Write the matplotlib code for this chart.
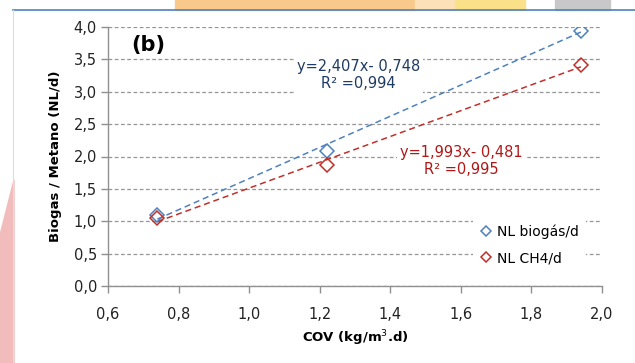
import matplotlib.pyplot as plt
from matplotlib.patches import Rectangle, Polygon
from matplotlib.lines import Line2D

# data
cov = [0.74, 1.22, 1.94]
biogas = [1.10, 2.08, 3.94]
ch4 = [1.05, 1.87, 3.41]
fit_biogas = [2.407, -0.748]
fit_ch4 = [1.993, -0.481]
eq_biogas = "y=2,407x- 0,748\nR² =0,994"
eq_ch4 = "y=1,993x- 0,481\nR² =0,995"
xticks = [0.6, 0.8, 1.0, 1.2, 1.4, 1.6, 1.8, 2.0]
yticks = [0.0, 0.5, 1.0, 1.5, 2.0, 2.5, 3.0, 3.5, 4.0]

blue = "#4f81bd"
red = "#c0302b"
blue_txt = "#1f3b63"
red_txt = "#b01818"

plt.rcParams['font.family'] = ['DejaVu Sans']

fig = plt.figure(figsize=(6.35, 3.63), dpi=100)
fig.patch.set_facecolor("white")

# decorative background (slide behind the chart)
W, H = 635.0, 363.0
def fr(x0, y0, w, h, c, a=1.0):
    fig.patches.append(Rectangle((x0 / W, 1 - (y0 + h) / H), w / W, h / H,
                                 transform=fig.transFigure, color=c, alpha=a, zorder=0))
fr(175, 0, 240, 10, "#f8c98a")
fr(415, 0, 40, 10, "#fbe0b8")
fr(455, 0, 70, 10, "#fbe08a")
fr(555, 0, 55, 10, "#c8c8c8")
fig.patches.append(Polygon([(0, 0), (14 / W, 0), (14 / W, 1 - 180 / H), (0, 1 - 235 / H)],
                           closed=True, transform=fig.transFigure,
                           color="#f2bcbc", zorder=0))
fig.lines.append(Line2D([13 / W, 1], [1 - 10 / H, 1 - 10 / H], transform=fig.transFigure,
                        color="#4f81bd", lw=1.2))
fig.lines.append(Line2D([13 / W, 13 / W], [0, 1 - 10 / H], transform=fig.transFigure,
                        color="#dddddd", lw=0.8))

ax = fig.add_axes([108 / W, 1 - 286 / H, 494 / W, 259 / H])
ax.set_facecolor("none")

# trendlines
xs = [cov[0], cov[-1]]
ax.plot(xs, [fit_biogas[0] * x + fit_biogas[1] for x in xs], color=blue, lw=1.1,
        ls=(0, (4, 2.5)), zorder=3)
ax.plot(xs, [fit_ch4[0] * x + fit_ch4[1] for x in xs], color=red, lw=1.1,
        ls=(0, (4, 2.5)), zorder=3)

ax.plot(cov, biogas, ls="none", marker="D", ms=7, mfc="none", mec=blue, mew=1.1,
        label="NL biogás/d", zorder=4)
ax.plot(cov, ch4, ls="none", marker="D", ms=7, mfc="none", mec=red, mew=1.1,
        label="NL CH4/d", zorder=4)

ax.set_xlim(0.6, 2.0)
ax.set_ylim(0.0, 4.0)
ax.set_xticks(xticks)
ax.set_yticks(yticks)
ax.set_xticklabels([("%.1f" % v).replace(".", ",") for v in xticks], fontsize=10.5, color="#222222")
ax.set_yticklabels([("%.1f" % v).replace(".", ",") for v in yticks], fontsize=10.5, color="#222222")
ax.tick_params(axis="both", direction="out", length=5, color="#909090", width=1)
ax.tick_params(axis="x", pad=10)
ax.tick_params(axis="y", pad=3)

ax.yaxis.grid(True, color="#969696", ls=(0, (3, 2)), lw=0.9)
ax.set_axisbelow(True)
for s in ["top", "right"]:
    ax.spines[s].set_visible(False)
for s in ["left", "bottom"]:
    ax.spines[s].set_color("#909090")
    ax.spines[s].set_linewidth(1)

ax.set_xlabel("COV (kg/m$^3$.d)", fontsize=9.5, fontweight="bold", labelpad=5)
ax.set_ylabel("Biogas / Metano (NL/d)", fontsize=9.5, fontweight="bold", labelpad=8)

ax.text(0.714, 3.72, "(b)", fontsize=15, fontweight="bold", ha="center", va="center")
ax.text(1.309, 3.26, eq_biogas, fontsize=10.5, color=blue_txt, ha="center", va="center",
        linespacing=1.15, bbox=dict(facecolor="white", edgecolor="none", pad=2), zorder=5)
ax.text(1.60, 1.93, eq_ch4, fontsize=10.5, color=red_txt, ha="center", va="center",
        linespacing=1.15, bbox=dict(facecolor="white", edgecolor="none", pad=2), zorder=5)

leg = ax.legend(loc="upper left", bbox_to_anchor=(0.725, 0.29), frameon=True,
                fontsize=10, handlelength=0.8, handletextpad=0.4, labelspacing=0.85,
                borderpad=0.5, markerscale=0.8)
leg.get_frame().set_facecolor("white")
leg.get_frame().set_edgecolor("none")
leg.get_frame().set_alpha(1)

fig.savefig("out.png", dpi=100)
